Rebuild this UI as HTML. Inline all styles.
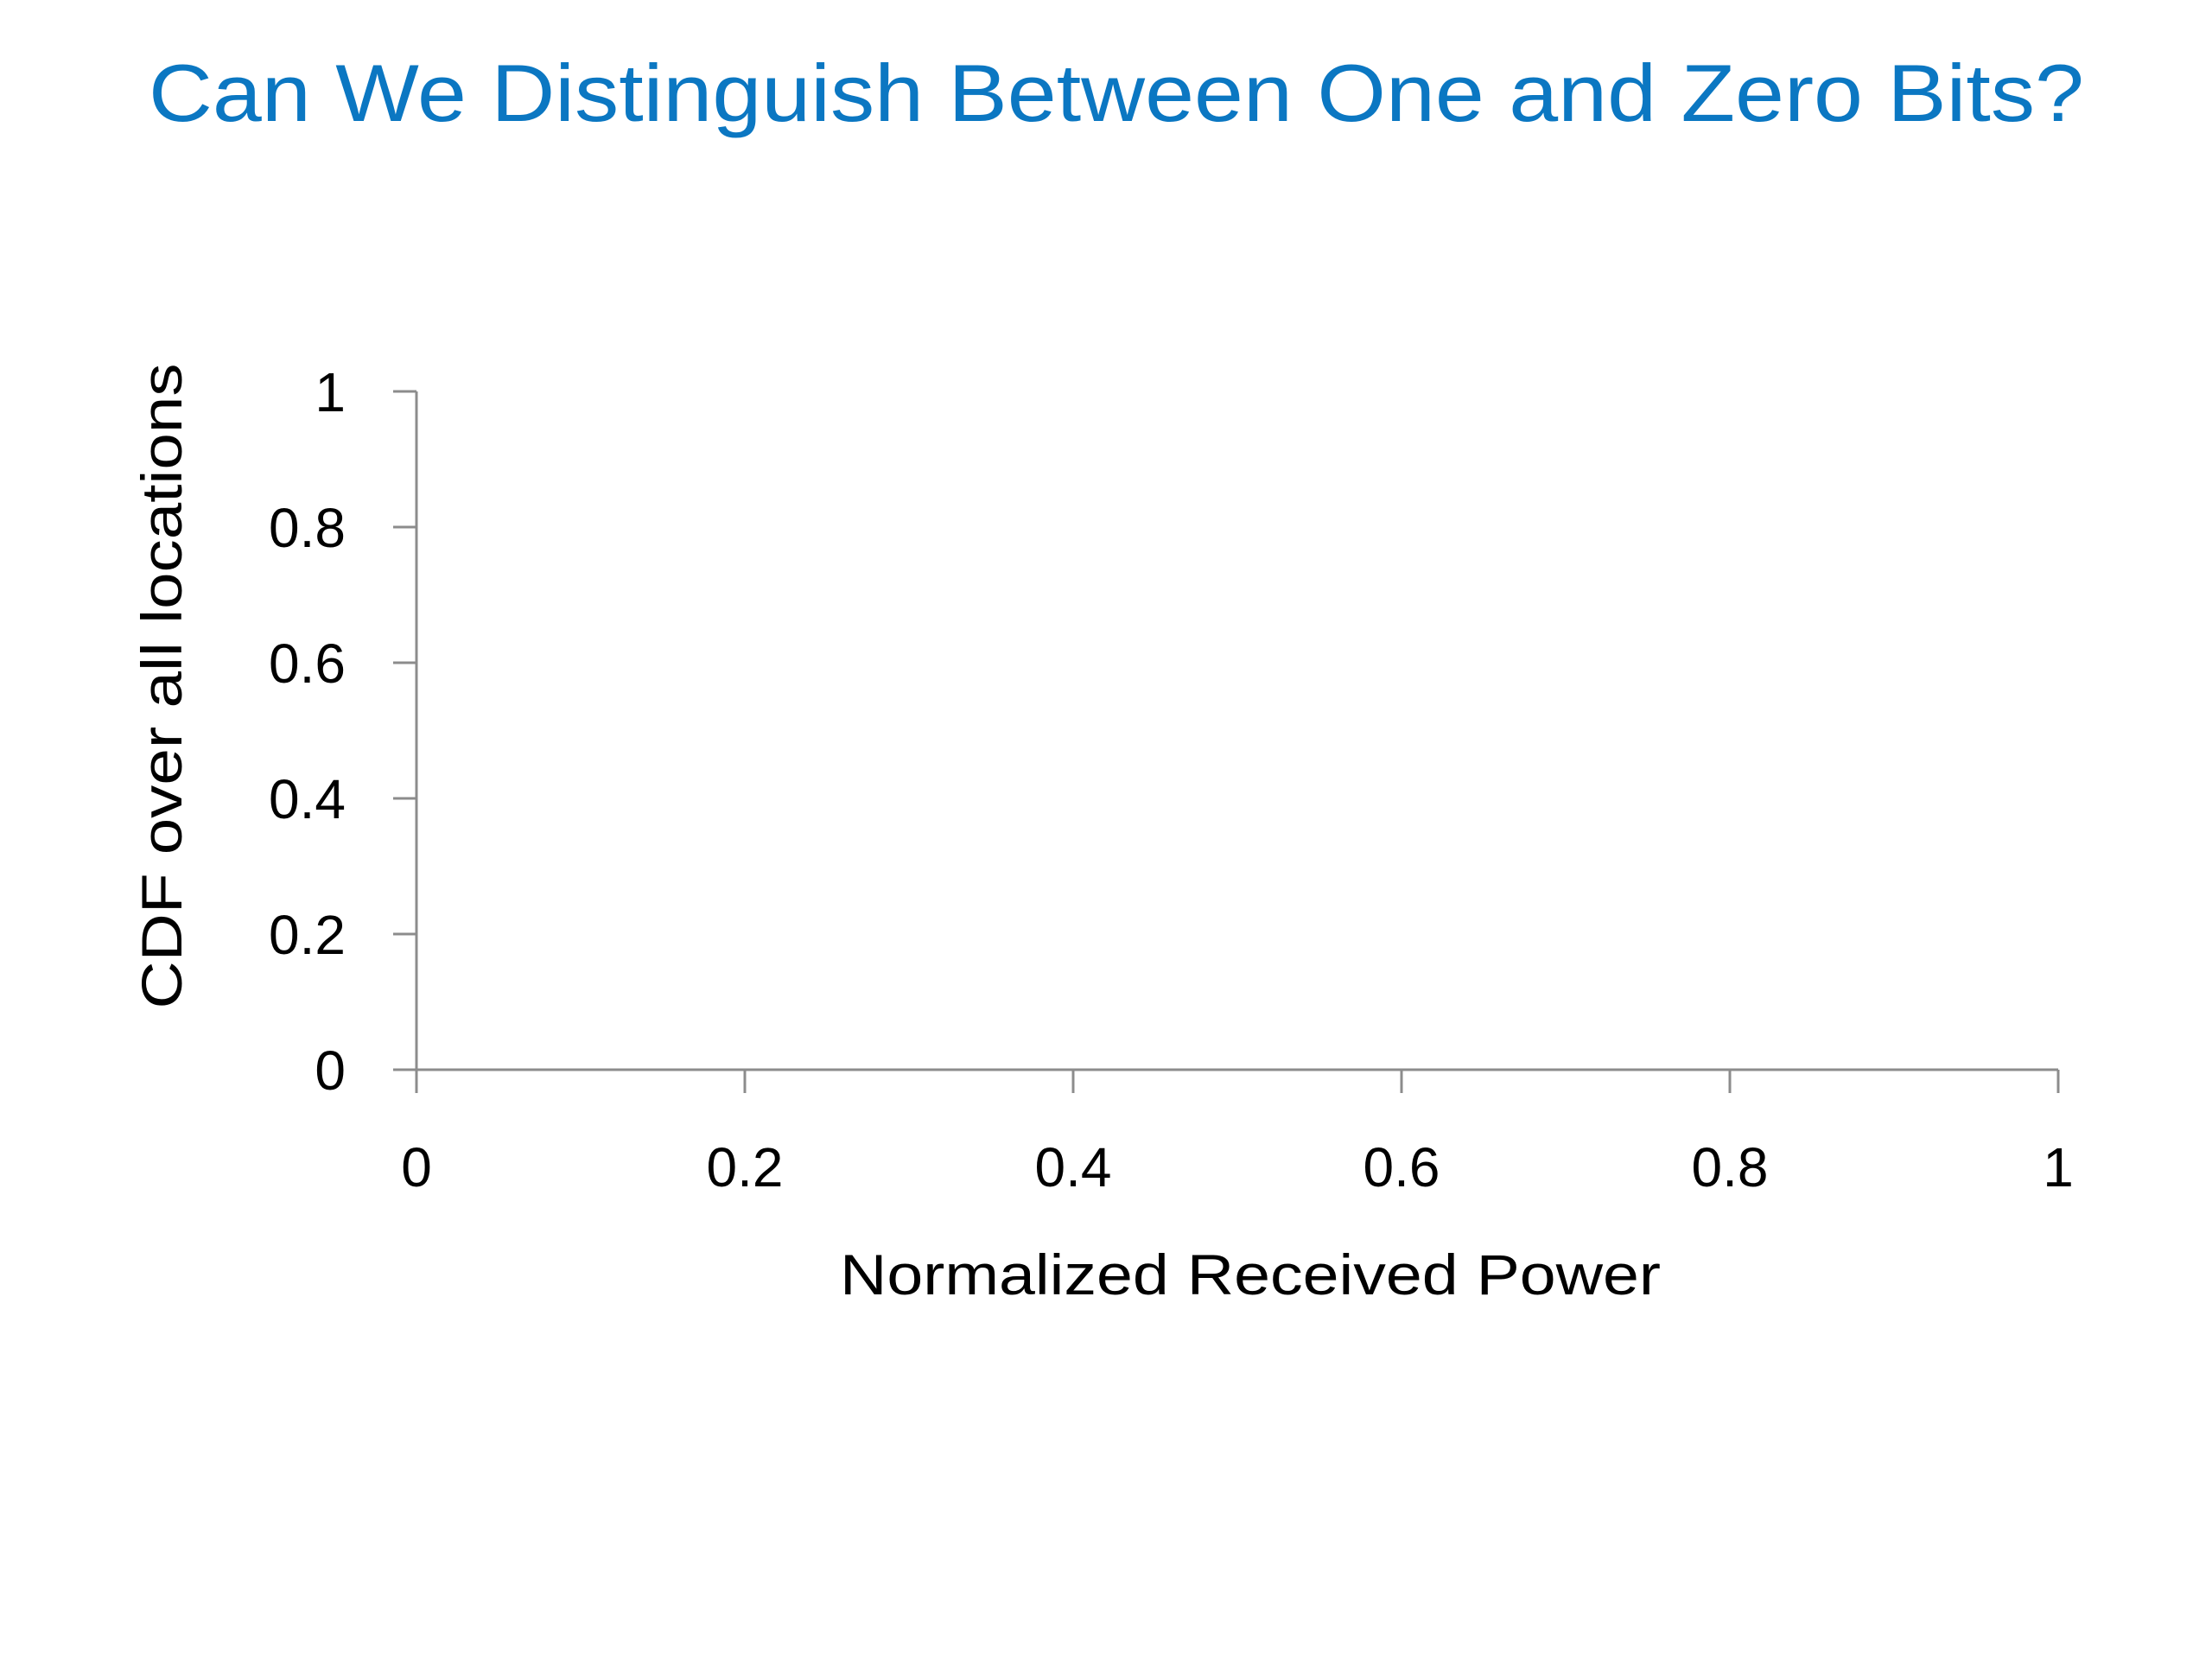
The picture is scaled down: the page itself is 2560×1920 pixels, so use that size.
<!DOCTYPE html>
<html><head><meta charset="utf-8"><style>
html,body{margin:0;padding:0;background:#fff;}
svg{display:block;font-family:"Liberation Sans",sans-serif;}
</style></head><body>
<svg id="chart" width="2560" height="1920" viewBox="0 0 2560 1920">
<text x="1292" y="140" text-anchor="middle" font-size="94" fill="#0B77C2" textLength="2240" lengthAdjust="spacingAndGlyphs">Can We Distinguish Between One and Zero Bits?</text>
<g id="axes"></g>
<text x="1447" y="1498" text-anchor="middle" font-size="66" fill="#000" textLength="950" lengthAdjust="spacingAndGlyphs">Normalized Received Power</text>
<text transform="translate(210,794) rotate(-90)" text-anchor="middle" font-size="66" fill="#000" textLength="747" lengthAdjust="spacingAndGlyphs">CDF over all locations</text>
</svg>
<script>
const xTicks = [0, 0.2, 0.4, 0.6, 0.8, 1];
const yTicks = [0, 0.2, 0.4, 0.6, 0.8, 1];
const xTickLabels = ["0", "0.2", "0.4", "0.6", "0.8", "1"];
const yTickLabels = ["0", "0.2", "0.4", "0.6", "0.8", "1"];
const X0 = 482, X1 = 2382, Y0 = 1238, Y1 = 453;
function xs(v){ return X0 + v * (X1 - X0); }
function ys(v){ return Y0 - v * (Y0 - Y1); }
const NS = "http://www.w3.org/2000/svg";
const g = document.getElementById("axes");
function mk(tag, attrs){ const e = document.createElementNS(NS, tag); for (const k in attrs) e.setAttribute(k, attrs[k]); g.appendChild(e); return e; }
let a = mk("line", {x1:X0, y1:Y0, x2:X1, y2:Y0, stroke:"#8c8c8c", "stroke-width":3});


a = mk("line", {x1:X0, y1:Y0, x2:X0, y2:Y1, stroke:"#8c8c8c", "stroke-width":3});


xTicks.forEach((v, i) => {
  const t = mk("line", {x1:xs(v), y1:Y0, x2:xs(v), y2:Y0 + 27, stroke:"#8c8c8c", "stroke-width":3});
  
  
  const l = mk("text", {x:xs(v), y:1373, "text-anchor":"middle", "font-size":64, fill:"#000"});
  l.textContent = xTickLabels[i];
  
  
});
yTicks.forEach((v, i) => {
  const t = mk("line", {x1:X0 - 27, y1:ys(v), x2:X0, y2:ys(v), stroke:"#8c8c8c", "stroke-width":3});
  
  
  const l = mk("text", {x:400, y:ys(v) + 23, "text-anchor":"end", "font-size":64, fill:"#000"});
  l.textContent = yTickLabels[i];
  
  
});
</script>
</body></html>
